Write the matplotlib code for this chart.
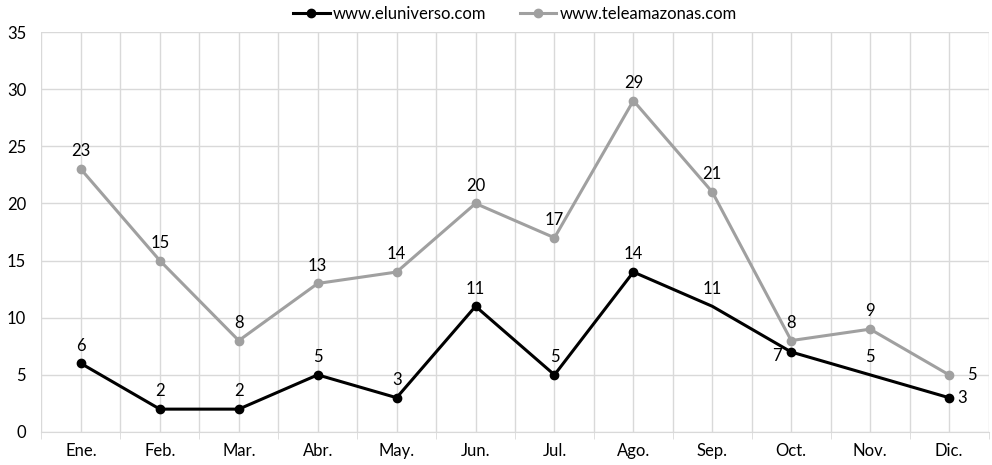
import matplotlib
matplotlib.use("Agg")
import matplotlib.pyplot as plt
import numpy as np

plt.rcParams["font.family"] = ["Lato", "DejaVu Sans"]

months = ["Ene.", "Feb.", "Mar.", "Abr.", "May.", "Jun.", "Jul.", "Ago.", "Sep.", "Oct.", "Nov.", "Dic."]
eluniverso = [6, 2, 2, 5, 3, 11, 5, 14, 11, 7, 5, 3]
teleamazonas = [23, 15, 8, 13, 14, 20, 17, 29, 21, 8, 9, 5]

# points drawn without a marker in the original (eluniverso)
no_marker = [8, 10]

fig = plt.figure(figsize=(9.92, 4.65), dpi=100)
ax = fig.add_axes([0.0418, 0.071, 0.9547, 0.86])

x = np.arange(len(months))
grid_col = "#d9d9d9"
black = "#000000"
gray = "#a0a0a0"
fs = 12

mk_el = [i for i in x if i not in no_marker]
ax.plot(x, eluniverso, color=black, lw=2.2, marker="o", ms=6,
        markevery=mk_el, label="www.eluniverso.com", zorder=4)
ax.plot(x, teleamazonas, color=gray, lw=2.2, marker="o", ms=6,
        label="www.teleamazonas.com", zorder=3)

# data labels
for i, v in enumerate(teleamazonas):
    if i == 11:
        ax.annotate(str(v), (i, v), xytext=(13, 0), textcoords="offset points",
                    ha="left", va="center", fontsize=fs)
    else:
        ax.annotate(str(v), (i, v), xytext=(0, 7), textcoords="offset points",
                    ha="center", va="bottom", fontsize=fs)
for i, v in enumerate(eluniverso):
    if i == 9:
        ax.annotate(str(v), (i, v), xytext=(-7, -3), textcoords="offset points",
                    ha="right", va="center", fontsize=fs)
    elif i == 11:
        ax.annotate(str(v), (i, v), xytext=(6, 0), textcoords="offset points",
                    ha="left", va="center", fontsize=fs)
    else:
        ax.annotate(str(v), (i, v), xytext=(0, 7), textcoords="offset points",
                    ha="center", va="bottom", fontsize=fs)

ax.set_xlim(-0.5, len(months) - 0.5)
ax.set_ylim(0, 35)
ax.set_yticks(np.arange(0, 36, 5))
ax.set_xticks(x)
ax.set_xticklabels(months)
ax.set_xticks(np.arange(-0.5, len(months), 1), minor=True)

ax.grid(True, which="major", color=grid_col, lw=1)
ax.grid(True, which="minor", axis="x", color=grid_col, lw=1)
ax.set_axisbelow(True)

for s in ["top", "right", "left"]:
    ax.spines[s].set_visible(False)
ax.spines["bottom"].set_color(grid_col)
ax.tick_params(axis="x", which="major", length=0, labelsize=fs, pad=8)
ax.tick_params(axis="x", which="minor", length=5, color=grid_col)
ax.tick_params(axis="y", length=0, labelsize=fs, pad=11)

ax.legend(loc="lower center", bbox_to_anchor=(0.5, 1.008), ncol=2, frameon=False,
          fontsize=fs, handlelength=2.2, handletextpad=0.2, columnspacing=2.0,
          borderaxespad=0.0)

fig.savefig("out.png", dpi=100)
